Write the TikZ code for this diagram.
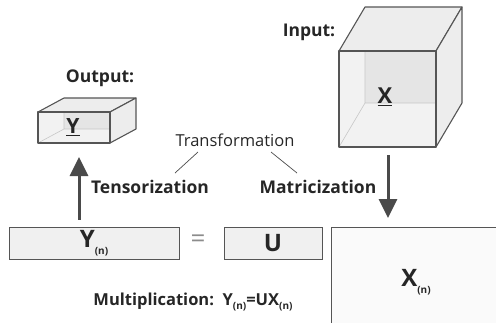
\documentclass[tikz,border=0pt]{standalone}
\usepackage{fontspec}
\setmainfont{Open Sans}
\usetikzlibrary{positioning,arrows.meta,calc}
\definecolor{edgegray}{HTML}{555555}
\definecolor{arrowgray}{HTML}{4A4A4A}
\newcommand{\modesub}[1]{\raisebox{-0.3em}{\fontsize{10}{10}\selectfont #1}}
% cube: front face (x0,y0)--(x1,y1), depth offset (dx,dy)
\newcommand{\tenscube}[6]{%
  \fill[cubeback] (#1+#5,#2+#6) rectangle (#3+#5,#4+#6);
  \fill[cubeside] (#1,#2) -- (#1+#5,#2+#6) -- (#1+#5,#4+#6) -- (#1,#4) -- cycle;
  \fill[cubeside] (#1,#4) -- (#1+#5,#4+#6) -- (#3+#5,#4+#6) -- (#3,#4) -- cycle;
  \draw[cubehidden] (#1,#4) -- (#1+#5,#4+#6) -- (#3+#5,#4+#6)
                    (#1+#5,#4+#6) -- (#1+#5,#2+#6);
  \filldraw[cubeface] (#1,#2) -- (#1+#5,#2+#6) -- (#3+#5,#2+#6) -- (#3,#2) -- cycle;
  \filldraw[cubeface] (#3,#2) -- (#3+#5,#2+#6) -- (#3+#5,#4+#6) -- (#3,#4) -- cycle;
  \draw[cubeedge] (#1,#2) rectangle (#3,#4);
}

\begin{document}
\begin{tikzpicture}[x=1pt, y=-1pt, >=Stealth,
    cubeback/.style={fill=black!10},
    cubeside/.style={fill=black!5},
    cubeface/.style={fill=black!7, draw=edgegray, line width=1.1pt, line join=round},
    cubeedge/.style={draw=edgegray, line width=1.1pt, line join=round},
    cubehidden/.style={draw=black!22, line width=0.6pt},
    mtx/.style={draw=edgegray, line width=1pt, fill=black!6, inner sep=0pt},
    lbl/.style={font=\fontsize{17.5}{19}\selectfont\bfseries, text=black!85},
    big/.style={font=\fontsize{24}{25}\selectfont\bfseries, text=black!85},
    bigarrow/.style={arrowgray, line width=3pt,
      -{Triangle[width=18pt,length=19pt]}},
    leader/.style={draw=black!70, line width=0.7pt}]
  \useasboundingbox (0,0) rectangle (496,322);
  \clip (0,0) rectangle (496,322);

  % tensors
  \tenscube{38}{112}{110}{143}{26}{-14}
  \tenscube{339}{51}{436}{147}{26}{-44}
  \node[lbl] (ytens) at (73,127) {\fontsize{21}{22}\selectfont\underline{Y}};
  \node[lbl] (xtens) at (385,97) {\fontsize{22}{23}\selectfont\underline{X}};
  \node[lbl] (outlbl) at (100,78) {Output:};
  \node[lbl] (inlbl) at (309,32) {Input:};
  \coordinate (ycube) at (79,143);
  \coordinate (xcube) at (388,147);

  % matrices
  \node[mtx, big, minimum width=170pt, minimum height=32pt] (ybox) at (94,243)
    {Y\modesub{(n)}};
  \node[mtx, big, minimum width=98pt, minimum height=32pt] (ubox) at (273,243) {U};
  \node[mtx, fill=black!2, anchor=north west, minimum width=175pt,
        minimum height=110pt] (xbox) at (331,227) {};
  \node[big] (xmat) at (416,282) {X\modesub{(n)}};
  \node[text=black!45, font=\fontsize{26}{26}\selectfont] (eq) at (198,241) {=};

  % transformation labels
  \node[font=\fontsize{16.5}{18}\selectfont, text=black!85] (trans) at (235,140) {Transformation};
  \node[lbl] (tens) at (150,187) {Tensorization};
  \node[lbl] (matr) at (318,187) {Matricization};
  \draw[leader] ($(trans.center)+(-37,12)$) -- ($(tens.center)+(25,-14)$);
  \draw[leader] ($(trans.center)+(36,12)$) -- ($(matr.center)+(-21,-14)$);

  % tensorization / matricization
  \draw[bigarrow, shorten <=7pt, shorten >=14pt] (ybox.north -| ycube) -- (ycube);
  \draw[bigarrow, shorten <=8pt, shorten >=9pt] (xcube) -- (xcube |- xbox.north);

  \node[lbl, font=\fontsize{16.5}{18}\selectfont\bfseries] (mult) at (193,302)
    {Multiplication:\ \ Y\modesub{(n)}=UX\modesub{(n)}};
\end{tikzpicture}
\end{document}
